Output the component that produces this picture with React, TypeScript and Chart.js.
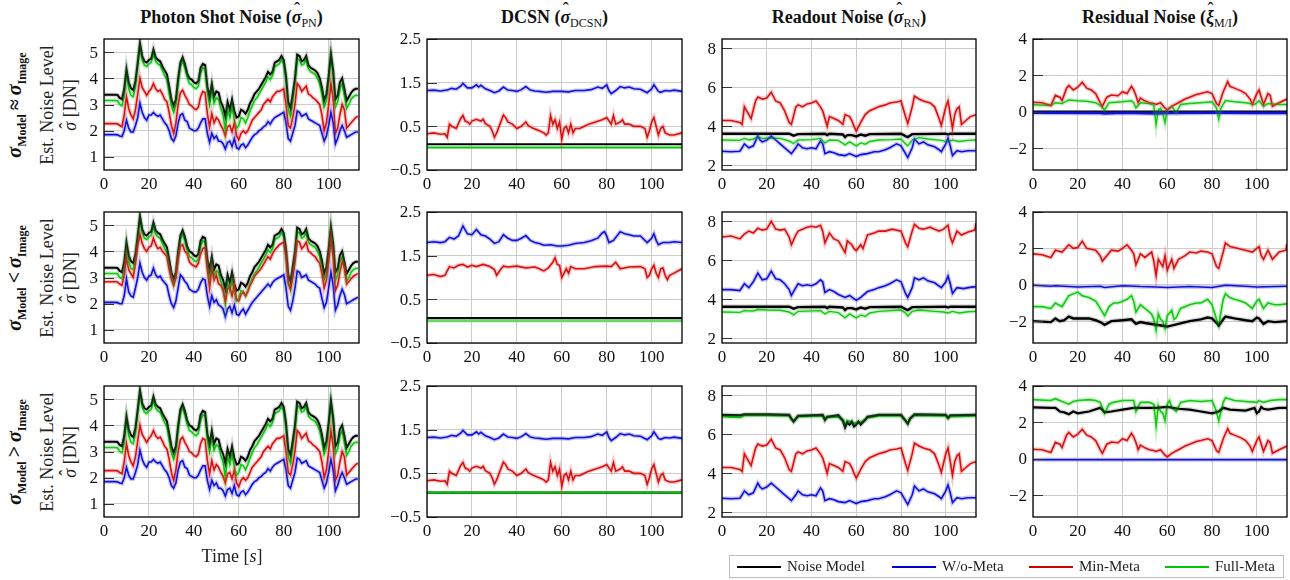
import React, { useEffect, useRef } from "react";
import { Chart, registerables } from "chart.js";
Chart.register(...registerables);

type Pt = [number, number];

// ---------- colours ----------
const BLACK = "#000000";
const BLUE = "#0000d0";
const RED = "#d00000";
const GREEN = "#00c800";
const HALO: Record<string, string> = {
  "#000000": "rgba(0,0,0,0.15)",
  "#0000d0": "rgba(60,60,230,0.28)",
  "#d00000": "rgba(230,60,60,0.28)",
  "#00c800": "rgba(60,210,60,0.28)",
};

// ---------- axes ----------
const X_TICKS = [0, 20, 40, 60, 80, 100];
const X_LABELS = ["0", "20", "40", "60", "80", "100"];
const X_MAX = 113.5;
const PN_Y_TICKS = [1, 2, 3, 4, 5];
const PN_Y_LABELS = ["1", "2", "3", "4", "5"];
const DCSN_Y_TICKS = [-0.5, 0.5, 1.5, 2.5];
const DCSN_Y_LABELS = ["\u22120.5", "0.5", "1.5", "2.5"];
const RN_Y_TICKS = [2, 4, 6, 8];
const RN_Y_LABELS = ["2", "4", "6", "8"];
const RES_Y_TICKS = [-2, 0, 2, 4];
const RES_Y_LABELS = ["\u22122", "0", "2", "4"];

const TITLES = ["Photon Shot Noise", "DCSN", "Readout Noise", "Residual Noise"];
const TITLE_SYMBOLS = ["\u03C3", "\u03C3", "\u03C3", "\u03BE"];
const TITLE_SUBS = ["PN", "DCSN", "RN", "M/I"];
const ROW_RELATIONS = ["\u2248", "<", ">"];
const LEGEND_LABELS = ["Noise Model", "W/o-Meta", "Min-Meta", "Full-Meta"];

// ---------- Photon shot noise (per second, t = 0..113) ----------
const PN_BLACK = [
  3.37, 3.37, 3.37, 3.37, 3.37, 3.37, 3.36, 3.25, 3.2, 3.6,
  4.35, 3.85, 3.62, 3.55, 3.9, 4.6, 5.35, 4.85, 4.65, 4.6,
  4.7, 4.75, 5.1, 4.8, 4.7, 4.65, 4.45, 4.3, 4.15, 3.7,
  3.2, 2.95, 3.2, 4.0, 4.6, 4.8, 4.55, 4.2, 4.0, 3.95,
  3.85, 3.8, 3.9, 4.4, 4.55, 4.5, 3.7, 3.3, 3.8, 3.3,
  3.5, 3.45, 3.1, 2.9, 2.55, 3.1, 2.8, 3.2, 2.75, 2.5,
  2.55, 2.8, 2.75, 2.65, 2.8, 3.05, 3.2, 3.4, 3.5, 3.6,
  3.75, 3.9, 4.05, 4.25, 4.15, 4.25, 4.6, 4.65, 4.7, 4.85,
  4.7, 4.1, 3.1, 2.85, 3.4, 4.0, 4.9, 4.85, 4.65, 4.7,
  4.85, 4.5, 4.4, 4.35, 4.3, 4.2, 4.0, 3.65, 3.15, 3.4,
  4.1, 4.95, 4.3, 3.2, 3.35, 3.85, 4.0, 3.6, 3.15, 3.3,
  3.45, 3.55, 3.6, 3.6,
];
const PN_GREEN = [
  3.15, 3.15, 3.15, 3.15, 3.15, 3.15, 3.14, 3.0, 2.95, 3.35,
  4.2, 3.6, 3.35, 3.3, 3.7, 4.45, 5.2, 4.7, 4.5, 4.45,
  4.55, 4.6, 4.95, 4.65, 4.55, 4.5, 4.3, 4.1, 3.95, 3.45,
  2.95, 2.7, 3.0, 3.8, 4.45, 4.65, 4.4, 4.05, 3.8, 3.75,
  3.65, 3.6, 3.7, 4.2, 4.4, 4.35, 3.45, 3.0, 3.55, 3.05,
  3.25, 3.2, 2.85, 2.6, 2.0, 2.8, 2.5, 2.9, 2.4, 2.1,
  2.2, 2.5, 2.45, 2.3, 2.5, 2.75, 2.95, 3.15, 3.25, 3.4,
  3.55, 3.7, 3.85, 4.05, 3.95, 4.1, 4.45, 4.5, 4.55, 4.7,
  4.55, 3.9, 2.8, 2.55, 3.15, 3.8, 4.75, 4.7, 4.5, 4.55,
  4.7, 4.35, 4.25, 4.2, 4.15, 4.0, 3.8, 3.4, 2.9, 3.15,
  3.9, 4.8, 4.1, 2.9, 3.1, 3.6, 3.8, 3.35, 2.85, 3.0,
  3.2, 3.3, 3.35, 3.35,
];
const PN_RED_R1 = [
  2.27, 2.27, 2.27, 2.27, 2.27, 2.27, 2.26, 2.2, 2.15, 2.6,
  3.3, 2.85, 2.6, 2.45, 2.8, 3.4, 4.0, 3.65, 3.5, 3.35,
  3.5, 3.6, 3.8, 3.6, 3.5, 3.55, 3.4, 3.2, 3.1, 2.7,
  2.2, 1.9, 2.3, 3.0, 3.45, 3.55, 3.35, 3.2, 3.0, 2.95,
  2.85, 2.8, 2.9, 3.3, 3.5, 3.45, 2.65, 2.15, 2.65, 2.3,
  2.5, 2.4, 2.2, 2.05, 1.8, 2.15, 2.2, 1.95, 2.3, 1.8,
  1.65, 1.9, 2.0, 1.9, 2.0, 2.2, 2.4, 2.5, 2.6, 2.7,
  2.8, 3.0, 3.1, 3.2, 3.1, 3.3, 3.4, 3.5, 3.5, 3.55,
  3.6, 3.0, 2.2, 2.1, 2.5, 3.0, 3.8, 3.7, 3.5, 3.6,
  3.7, 3.4, 3.35, 3.25, 3.2, 3.1, 3.0, 2.6, 2.0, 2.3,
  3.0, 3.8, 3.2, 1.9, 2.1, 2.6, 3.0, 2.8, 2.1, 2.2,
  2.3, 2.4, 2.5, 2.55,
];
const PN_BLUE_R1 = [
  1.85, 1.85, 1.85, 1.85, 1.85, 1.85, 1.84, 1.8, 1.78, 2.0,
  2.4, 2.1, 1.95, 1.95, 2.2, 2.5, 3.05, 2.7, 2.5, 2.4,
  2.6, 2.6, 2.7, 2.6, 2.55, 2.6, 2.45, 2.3, 2.2, 2.0,
  1.7, 1.6, 1.8, 2.3, 2.6, 2.65, 2.4, 2.35, 2.1, 2.05,
  2.0, 2.0, 2.1, 2.3, 2.45, 2.45, 1.9, 1.55, 1.9, 1.7,
  1.8, 1.6, 1.6, 1.5, 1.3, 1.55, 1.6, 1.4, 1.7, 1.35,
  1.3, 1.45, 1.5, 1.35, 1.45, 1.6, 1.75, 1.85, 1.9, 2.0,
  2.05, 2.15, 2.2, 2.35, 2.25, 2.4, 2.5, 2.55, 2.6, 2.65,
  2.7, 2.3, 1.7, 1.6, 1.9, 2.2, 2.75, 2.7, 2.55, 2.6,
  2.65, 2.45, 2.4, 2.35, 2.3, 2.25, 2.2, 1.9, 1.6, 1.8,
  2.2, 2.7, 2.3, 1.5, 1.7, 2.0, 2.2, 2.0, 1.75, 1.8,
  1.85, 1.9, 1.95, 1.95,
];
const PN_RED_R2 = [
  2.84, 2.84, 2.84, 2.84, 2.84, 2.84, 2.83, 2.75, 2.7, 3.1,
  3.75, 3.3, 3.15, 3.0, 3.5, 4.2, 4.65, 4.3, 4.1, 4.0,
  4.15, 4.2, 4.5, 4.25, 4.1, 4.15, 4.0, 3.9, 3.8, 3.3,
  2.95, 2.7, 3.0, 3.7, 4.2, 4.25, 4.0, 3.9, 3.6, 3.5,
  3.45, 3.4, 3.55, 3.9, 4.1, 4.15, 3.3, 2.6, 3.3, 2.9,
  3.1, 2.75, 2.7, 2.5, 2.1, 2.55, 2.65, 2.3, 2.75, 2.15,
  2.1, 2.35, 2.45, 2.3, 2.45, 2.7, 2.85, 3.05, 3.15, 3.25,
  3.35, 3.5, 3.65, 3.8, 3.7, 3.9, 4.05, 4.15, 4.25, 4.3,
  4.35, 3.8, 2.8, 2.55, 3.0, 3.6, 4.4, 4.35, 4.1, 4.2,
  4.35, 4.0, 3.95, 3.85, 3.8, 3.65, 3.55, 3.15, 2.6, 2.9,
  3.6, 4.45, 3.8, 2.5, 2.7, 3.2, 3.6, 3.4, 2.75, 2.85,
  2.95, 3.05, 3.1, 3.15,
];
const PN_BLUE_R2 = [
  2.05, 2.05, 2.05, 2.05, 2.05, 2.05, 2.04, 2.0, 2.0, 2.3,
  2.95, 2.45, 2.3, 2.25, 2.6, 3.0, 3.55, 3.2, 3.0, 2.9,
  3.05, 3.1, 3.35, 3.1, 3.0, 3.05, 2.9, 2.8, 2.7, 2.3,
  2.0, 1.85, 2.1, 2.6, 3.1, 3.0, 2.85, 2.75, 2.55, 2.5,
  2.45, 2.45, 2.55, 2.8, 2.95, 2.9, 2.3, 1.9, 2.3, 2.05,
  2.15, 1.95, 1.9, 1.8, 1.5, 1.8, 1.9, 1.65, 1.95, 1.6,
  1.55, 1.7, 1.8, 1.6, 1.75, 1.9, 2.05, 2.15, 2.25, 2.35,
  2.45, 2.55, 2.65, 2.75, 2.65, 2.8, 2.9, 2.95, 3.0, 3.05,
  3.1, 2.6, 1.9, 1.75, 2.1, 2.6, 3.25, 3.2, 3.0, 3.05,
  3.1, 2.9, 2.85, 2.8, 2.75, 2.65, 2.6, 2.2, 1.85, 2.05,
  2.6, 3.2, 2.7, 1.75, 1.95, 2.3, 2.55, 2.35, 2.0, 2.05,
  2.1, 2.15, 2.2, 2.25,
];

// ---------- DCSN ----------
const DCSN_BLACK_R1: Pt[] = [[0, 0.09], [113.5, 0.09]];
const DCSN_GREEN_R1: Pt[] = [[0, 0.015], [113.5, 0.015]];
const DCSN_BLACK_R2: Pt[] = [[0, 0.07], [113.5, 0.07]];
const DCSN_GREEN_R2: Pt[] = [[0, 0.01], [113.5, 0.01]];
const DCSN_BLACK_R3: Pt[] = [[0, 0.06], [113.5, 0.06]];
const DCSN_GREEN_R3: Pt[] = [[0, 0.06], [113.5, 0.06]];
const DCSN_BLUE_R1: Pt[] = [[0,1.32],[3,1.33],[6,1.31],[9,1.33],[11,1.37],[13,1.35],[15,1.42],[16,1.48],[18,1.38],[20,1.38],[22,1.45],[23,1.40],[24,1.44],[26,1.36],[28,1.32],[30,1.27],[32,1.31],[34,1.40],[36,1.33],[38,1.32],[40,1.30],[42,1.34],[44,1.41],[46,1.33],[48,1.31],[50,1.30],[53,1.28],[56,1.30],[60,1.30],[63,1.29],[66,1.32],[70,1.32],[73,1.34],[76,1.40],[78,1.37],[80,1.45],[81,1.32],[82,1.25],[84,1.32],[86,1.41],[88,1.38],[90,1.40],[92,1.36],[95,1.35],[98,1.27],[100,1.36],[101,1.45],[103,1.30],[104,1.28],[106,1.32],[108,1.31],[110,1.33],[113.5,1.30]];
const DCSN_RED_R1: Pt[] = [[0,0.33],[3,0.35],[6,0.32],[8,0.33],[9,0.25],[10,0.55],[11,0.5],[13,0.45],[15,0.68],[16,0.75],[17,0.62],[18,0.6],[19,0.55],[20,0.62],[22,0.66],[24,0.62],[25,0.66],[26,0.56],[28,0.5],[29,0.4],[30,0.25],[31,0.35],[33,0.62],[34,0.76],[35,0.70],[36,0.60],[38,0.55],[40,0.45],[42,0.50],[44,0.60],[45,0.52],[47,0.46],[50,0.40],[52,0.35],[53,0.30],[54,0.35],[55,0.75],[56,0.55],[57,0.65],[58,0.45],[59,0.60],[60,0.20],[61,0.45],[62,0.50],[63,0.35],[64,0.55],[65,0.35],[66,0.45],[68,0.45],[70,0.50],[72,0.55],[75,0.60],[78,0.65],[80,0.70],[82,0.55],[83,0.75],[84,0.55],[86,0.60],[87,0.65],[88,0.55],[90,0.55],[92,0.50],[95,0.50],[97,0.45],[98,0.25],[99,0.40],[100,0.60],[101,0.70],[102,0.50],[103,0.30],[104,0.45],[105,0.50],[106,0.35],[108,0.30],[110,0.30],[113.5,0.35]];
const DCSN_BLUE_R2: Pt[] = [[0,1.80],[3,1.82],[6,1.80],[8,1.82],[10,1.92],[12,1.88],[14,1.95],[16,2.18],[18,2.0],[20,1.98],[22,2.10],[24,1.98],[26,1.95],[28,1.88],[30,1.78],[32,1.82],[34,1.98],[36,1.90],[38,1.85],[40,1.85],[42,1.90],[44,1.96],[46,1.85],[48,1.80],[50,1.78],[52,1.74],[55,1.75],[58,1.72],[60,1.72],[63,1.74],[66,1.78],[70,1.80],[73,1.84],[76,1.90],[78,2.02],[79,2.05],[80,1.95],[81,1.80],[83,1.85],[86,2.05],[88,2.0],[90,1.98],[92,1.95],[95,1.95],[98,1.80],[100,1.90],[101,2.0],[102,1.85],[103,1.75],[105,1.80],[108,1.80],[110,1.82],[113.5,1.80]];
const DCSN_RED_R2: Pt[] = [[0,1.05],[3,1.07],[6,1.02],[8,1.05],[9,1.15],[10,1.25],[12,1.22],[14,1.28],[16,1.30],[18,1.24],[20,1.28],[22,1.25],[25,1.30],[28,1.25],[30,1.18],[31,1.05],[33,1.20],[34,1.26],[36,1.24],[40,1.26],[44,1.22],[48,1.24],[50,1.20],[52,1.15],[54,1.22],[56,1.35],[57,1.45],[58,1.30],[59,1.28],[60,1.0],[61,1.10],[62,1.20],[63,1.10],[64,1.25],[66,1.20],[70,1.20],[75,1.25],[80,1.26],[82,1.25],[84,1.35],[86,1.20],[90,1.24],[95,1.25],[97,1.20],[98,1.0],[99,1.05],[100,1.20],[101,1.28],[102,1.10],[103,1.0],[104,1.20],[105,1.22],[106,1.05],[107,0.95],[108,1.05],[110,1.10],[113.5,1.20]];

// ---------- Readout noise ----------
const RN_BLACK_R1: Pt[] = [[0,3.62],[30,3.62],[32,3.52],[34,3.6],[46,3.62],[47,3.55],[48,3.62],[54,3.58],[55,3.45],[56,3.55],[58,3.55],[60,3.48],[62,3.58],[64,3.52],[66,3.6],[80,3.62],[82,3.5],[83,3.45],[85,3.6],[100,3.62],[101,3.58],[102,3.62],[113.5,3.62]];
const RN_GREEN_R1: Pt[] = [[0,3.3],[8,3.28],[10,3.38],[12,3.3],[14,3.35],[16,3.45],[18,3.38],[22,3.4],[26,3.38],[30,3.25],[32,3.12],[34,3.3],[40,3.32],[44,3.38],[46,3.15],[48,3.3],[52,3.28],[55,3.05],[57,3.2],[60,3.0],[62,3.15],[64,3.08],[66,3.22],[70,3.3],[76,3.32],[80,3.35],[82,3.1],[83,3.0],[85,3.3],[88,3.42],[92,3.35],[98,3.28],[101,3.2],[103,3.3],[106,3.22],[110,3.28],[113.5,3.3]];
const RN_BLUE_R1: Pt[] = [[0,2.72],[4,2.7],[8,2.72],[9,2.9],[10,3.1],[12,2.9],[14,3.0],[16,3.5],[17,3.3],[18,3.2],[20,3.3],[22,3.5],[24,3.3],[26,3.1],[28,2.9],[30,2.7],[31,2.6],[33,2.9],[34,3.1],[36,2.9],[38,2.85],[40,2.9],[42,2.85],[44,3.25],[45,3.1],[46,2.6],[48,2.7],[50,2.65],[52,2.55],[55,2.5],[57,2.6],[60,2.45],[62,2.55],[65,2.6],[68,2.7],[70,2.7],[73,2.8],[75,2.9],[78,3.1],[80,3.0],[82,2.6],[83,2.4],[85,2.9],[86,3.35],[88,3.1],[90,3.2],[92,3.05],[95,2.95],[97,2.8],[98,2.7],[100,3.1],[101,3.4],[102,3.0],[103,2.5],[105,2.75],[107,2.7],[110,2.75],[113.5,2.75]];
const RN_RED_R1: Pt[] = [[0,4.3],[4,4.3],[8,4.2],[9,4.1],[10,5.0],[12,4.6],[13,4.4],[15,5.3],[16,5.5],[18,5.4],[20,5.45],[22,5.75],[24,5.3],[26,5.2],[28,4.8],[30,4.2],[31,4.1],[33,5.0],[34,5.1],[36,5.0],[38,5.15],[40,5.2],[42,5.3],[44,5.0],[45,4.8],[46,4.4],[47,4.0],[48,4.5],[50,4.4],[52,4.3],[54,4.1],[55,4.6],[57,4.5],[58,4.3],[59,4.0],[60,3.75],[62,4.2],[64,4.6],[66,4.8],[68,4.9],[70,5.0],[73,5.1],[75,5.2],[78,5.25],[80,5.3],[82,4.5],[83,4.15],[85,5.0],[86,5.55],[88,5.4],[90,5.3],[93,5.2],[95,5.0],[97,4.4],[98,4.05],[100,5.0],[101,5.3],[102,4.6],[103,3.9],[104,4.6],[105,4.9],[106,5.0],[107,4.1],[109,4.3],[111,4.5],[113.5,4.6]];
const RN_GREEN_R2: Pt[] = [[0,3.35],[8,3.33],[10,3.42],[14,3.4],[16,3.48],[20,3.45],[26,3.44],[30,3.35],[32,3.2],[34,3.38],[44,3.42],[46,3.25],[48,3.38],[52,3.32],[55,3.05],[57,3.25],[60,3.05],[62,3.2],[64,3.12],[66,3.3],[70,3.38],[80,3.45],[82,3.3],[83,3.15],[85,3.38],[88,3.45],[95,3.38],[99,3.35],[101,3.3],[103,3.38],[106,3.3],[110,3.36],[113.5,3.38]];
const RN_RED_R2: Pt[] = [[0,7.2],[4,7.25],[8,7.1],[10,7.35],[12,7.5],[14,7.4],[16,7.65],[18,7.55],[20,7.6],[22,8.0],[24,7.6],[26,7.55],[28,7.6],[30,7.2],[31,6.8],[33,7.3],[34,7.5],[36,7.6],[38,7.7],[40,7.75],[42,7.7],[44,7.8],[45,7.5],[46,6.9],[48,7.4],[50,7.1],[52,7.0],[54,6.6],[55,6.4],[56,7.0],[58,6.8],[59,6.6],[60,6.5],[62,6.8],[63,6.6],[65,7.3],[68,7.4],[70,7.5],[73,7.5],[76,7.6],[80,7.5],[82,6.9],[83,6.7],[85,7.5],[86,7.85],[88,7.65],[90,7.6],[93,7.7],[95,7.6],[97,7.5],[99,7.6],[101,7.8],[102,7.2],[103,6.9],[105,7.5],[107,7.3],[110,7.45],[113,7.55],[113.5,7.9]];
const RN_BLUE_R2: Pt[] = [[0,4.5],[4,4.5],[8,4.45],[10,4.8],[12,4.6],[14,4.9],[16,5.35],[18,5.0],[20,5.05],[22,5.45],[24,5.05],[26,5.0],[28,4.8],[30,4.5],[31,4.2],[33,4.6],[34,4.8],[36,4.7],[38,4.75],[40,4.7],[42,4.8],[44,5.0],[45,4.9],[46,4.35],[48,4.5],[50,4.4],[52,4.25],[55,4.1],[57,4.2],[60,3.95],[62,4.1],[65,4.4],[68,4.5],[70,4.6],[73,4.7],[75,4.8],[78,5.0],[80,4.9],[82,4.3],[83,4.1],[85,4.6],[86,5.1],[88,5.0],[90,5.1],[92,4.95],[95,4.85],[98,4.6],[100,4.9],[101,5.2],[102,4.8],[103,4.3],[105,4.6],[108,4.55],[110,4.6],[113.5,4.65]];
const RN_BLACK_R3: Pt[] = [[0,7.0],[8,6.98],[10,7.02],[20,7.02],[30,7.0],[31,6.8],[32,6.65],[34,6.95],[45,7.0],[46,6.75],[47,6.9],[52,6.98],[54,6.7],[55,6.35],[56,6.6],[57,6.5],[58,6.65],[59,6.4],[60,6.5],[61,6.65],[62,6.5],[64,6.75],[65,6.9],[70,7.0],[80,7.0],[82,6.7],[83,6.55],[84,6.8],[86,7.02],[100,7.0],[101,6.85],[102,6.98],[113.5,7.0]];
const RN_GREEN_R3: Pt[] = [[0,6.92],[8,6.88],[10,6.98],[20,6.98],[30,6.95],[31,6.8],[32,6.68],[34,6.92],[45,6.95],[46,6.72],[47,6.88],[52,6.9],[54,6.75],[55,6.5],[56,6.7],[58,6.62],[59,6.55],[60,6.6],[62,6.62],[64,6.75],[65,6.85],[70,6.95],[80,6.95],[82,6.7],[83,6.55],[84,6.8],[86,6.98],[100,6.95],[101,6.82],[102,6.92],[113.5,6.95]];

// ---------- Residual noise ----------
const RES_BLACK_R1: Pt[] = [[0, 0], [113.5, 0]];
const RES_BLUE_R1: Pt[] = [[0,-0.06],[30,-0.07],[32,-0.1],[40,-0.06],[55,-0.1],[60,-0.08],[80,-0.06],[100,-0.07],[113.5,-0.07]];
const RES_RED_R1: Pt[] = [[0,0.52],[4,0.5],[8,0.35],[10,0.9],[12,0.8],[13,0.62],[15,1.3],[16,1.45],[18,1.2],[20,1.35],[22,1.62],[24,1.3],[26,1.2],[28,1.0],[30,0.5],[31,0.3],[33,0.8],[35,0.92],[38,0.88],[40,1.1],[42,1.0],[44,1.4],[45,1.2],[46,0.9],[47,0.5],[48,0.75],[50,0.6],[52,0.5],[54,0.45],[55,0.4],[57,0.5],[59,0.2],[60,0.1],[62,0.3],[65,0.5],[68,0.7],[70,0.8],[73,0.95],[75,1.0],[78,1.1],[80,1.0],[82,0.45],[83,0.35],[85,1.1],[87,1.65],[88,1.4],[90,1.3],[93,1.15],[95,1.0],[97,0.7],[98,0.4],[100,1.0],[101,1.2],[102,0.8],[103,0.4],[105,1.0],[106,0.9],[107,0.3],[110,0.5],[113.5,0.7]];
const RES_GREEN_R1: Pt[] = [[0,0.38],[8,0.35],[10,0.5],[13,0.45],[16,0.65],[20,0.6],[24,0.58],[28,0.5],[30,0.35],[32,0.1],[34,0.5],[40,0.55],[44,0.6],[45,0.5],[46,0.22],[48,0.5],[52,0.45],[54,0.35],[55,-0.7],[56,0.1],[57,0.2],[58,-0.1],[59,-0.6],[60,0.1],[62,0.3],[64,-0.05],[66,0.4],[70,0.45],[75,0.5],[80,0.55],[82,0.2],[83,-0.4],[84,0.2],[86,0.62],[90,0.55],[95,0.5],[99,0.4],[101,0.6],[103,0.3],[105,0.45],[110,0.4],[113.5,0.4]];
const RES_BLUE_R2: Pt[] = [[0,-0.02],[8,-0.08],[10,-0.05],[20,-0.12],[30,-0.08],[32,-0.15],[40,-0.05],[48,-0.1],[55,-0.12],[60,-0.15],[70,-0.1],[80,-0.15],[86,-0.02],[95,-0.08],[100,-0.12],[113.5,-0.08]];
const RES_RED_R2: Pt[] = [[0,1.7],[4,1.65],[8,1.5],[10,1.9],[13,1.8],[16,2.2],[18,2.0],[20,2.05],[22,2.4],[24,2.0],[26,1.95],[28,1.9],[30,1.6],[31,1.3],[33,1.6],[35,1.9],[38,1.85],[40,2.0],[42,2.2],[44,1.9],[45,1.7],[46,1.1],[48,1.7],[50,1.5],[53,1.8],[54,1.3],[55,0.5],[56,1.4],[57,1.2],[58,1.0],[59,1.6],[60,0.8],[62,1.4],[63,0.9],[65,1.4],[68,1.6],[70,1.8],[73,1.75],[75,1.85],[78,1.8],[80,1.7],[82,1.0],[83,0.9],[85,1.8],[86,2.3],[88,2.1],[90,2.05],[93,1.95],[95,1.9],[98,1.8],[100,2.0],[101,2.1],[102,1.6],[103,1.4],[105,1.9],[107,1.4],[110,1.8],[113,1.9],[113.5,2.25]];
const RES_GREEN_R2: Pt[] = [[0,-1.2],[4,-1.2],[8,-1.3],[10,-1.0],[13,-1.2],[16,-0.6],[18,-0.5],[20,-0.4],[22,-0.6],[25,-0.7],[28,-0.9],[30,-1.3],[32,-1.7],[34,-1.2],[36,-1.0],[38,-1.0],[40,-0.9],[42,-0.8],[44,-0.6],[45,-0.9],[46,-1.5],[48,-1.1],[50,-1.3],[53,-1.6],[54,-1.9],[55,-2.5],[56,-1.6],[57,-1.9],[58,-2.0],[59,-2.4],[60,-1.7],[62,-1.4],[63,-1.9],[64,-1.8],[66,-1.3],[70,-1.1],[73,-1.0],[75,-1.0],[78,-0.8],[80,-1.1],[82,-1.9],[83,-2.2],[85,-0.8],[86,-0.5],[88,-0.7],[90,-0.8],[93,-0.9],[95,-1.0],[98,-1.3],[100,-0.9],[101,-0.8],[103,-1.3],[105,-1.0],[108,-1.1],[110,-1.1],[113.5,-1.05]];
const RES_BLACK_R2: Pt[] = [[0,-2.0],[8,-2.05],[10,-1.85],[12,-2.0],[14,-1.95],[16,-1.75],[18,-1.85],[20,-1.85],[25,-1.85],[28,-1.95],[30,-2.05],[32,-2.2],[35,-2.0],[40,-1.95],[44,-1.9],[46,-2.15],[48,-2.05],[50,-2.1],[55,-2.2],[58,-2.25],[60,-2.3],[65,-2.15],[70,-2.0],[75,-1.9],[78,-1.8],[80,-1.85],[82,-2.1],[83,-2.25],[85,-1.9],[86,-1.75],[90,-1.85],[95,-1.95],[98,-2.0],[100,-1.8],[101,-1.85],[102,-2.0],[103,-2.15],[105,-2.0],[108,-2.05],[113.5,-2.0]];
const RES_BLUE_R3: Pt[] = [[0,-0.05],[40,-0.06],[80,-0.05],[113.5,-0.06]];
const RES_GREEN_R3: Pt[] = [[0,3.25],[8,3.2],[10,3.3],[13,3.15],[16,3.0],[18,3.15],[20,3.2],[25,3.25],[28,3.2],[30,3.1],[32,2.5],[34,3.0],[36,3.1],[40,3.2],[45,3.2],[46,2.6],[48,3.1],[52,3.1],[54,3.0],[55,1.8],[56,2.9],[57,2.6],[58,2.5],[59,2.1],[60,3.0],[61,3.2],[62,2.8],[64,2.6],[66,3.1],[70,3.2],[75,3.15],[80,3.2],[82,2.6],[83,2.1],[85,3.1],[86,3.35],[90,3.2],[95,3.15],[100,3.1],[101,3.2],[103,3.1],[106,3.2],[110,3.25],[113.5,3.25]];
const RES_BLACK_R3: Pt[] = [[0,2.82],[8,2.8],[10,2.8],[12,2.6],[14,2.55],[16,2.45],[18,2.6],[20,2.5],[25,2.6],[30,2.8],[32,2.55],[35,2.6],[40,2.7],[45,2.8],[50,2.8],[55,2.8],[60,2.85],[65,2.75],[70,2.7],[75,2.6],[80,2.5],[83,2.6],[85,2.8],[88,2.7],[95,2.65],[99,2.8],[100,2.5],[101,2.6],[102,2.85],[103,2.75],[105,2.7],[110,2.8],[113.5,2.8]];

// ---------- helpers ----------
type XY = { x: number; y: number };
const fromVals = (v: number[]): XY[] => v.map((y, i) => ({ x: i, y }));
const fromPairs = (p: Pt[]): XY[] => p.map(([x, y]) => ({ x, y }));

type Series = { data: XY[]; color: string; width: number; halo: boolean };
const S = (data: XY[], color: string, width = 1.6, halo = true): Series => ({ data, color, width, halo });

const COL_LEFT = [104, 427, 722, 1033];
const COL_W = [255, 255, 254, 254];
const ROW_TOP = [39, 212, 386];
const PLOT_H = 131;
const YW = 50;
const PT = 12;
const PR = 6;
const XH = 30;

type YAxis = { min: number; max: number; ticks: number[]; labels: string[] };
const Y_AXES: YAxis[] = [
  { min: 0.5, max: 5.5, ticks: PN_Y_TICKS, labels: PN_Y_LABELS },
  { min: -0.5, max: 2.5, ticks: DCSN_Y_TICKS, labels: DCSN_Y_LABELS },
  { min: 1.76, max: 8.48, ticks: RN_Y_TICKS, labels: RN_Y_LABELS },
  { min: -3.2, max: 4.0, ticks: RES_Y_TICKS, labels: RES_Y_LABELS },
];

const PANELS: Series[][][] = [
  [
    [S(fromVals(PN_BLUE_R1), BLUE), S(fromVals(PN_RED_R1), RED), S(fromVals(PN_BLACK), BLACK, 2), S(fromVals(PN_GREEN), GREEN)],
    [S(fromPairs(DCSN_GREEN_R1), GREEN, 1.8, false), S(fromPairs(DCSN_BLACK_R1), BLACK, 2.2, false), S(fromPairs(DCSN_BLUE_R1), BLUE), S(fromPairs(DCSN_RED_R1), RED)],
    [S(fromPairs(RN_BLUE_R1), BLUE), S(fromPairs(RN_RED_R1), RED), S(fromPairs(RN_BLACK_R1), BLACK, 2.4), S(fromPairs(RN_GREEN_R1), GREEN, 1.4)],
    [S(fromPairs(RES_BLUE_R1), BLUE, 2.2), S(fromPairs(RES_BLACK_R1), BLACK, 2.4, false), S(fromPairs(RES_RED_R1), RED), S(fromPairs(RES_GREEN_R1), GREEN, 1.5)],
  ],
  [
    [S(fromVals(PN_BLUE_R2), BLUE), S(fromVals(PN_RED_R2), RED), S(fromVals(PN_BLACK), BLACK, 2), S(fromVals(PN_GREEN), GREEN)],
    [S(fromPairs(DCSN_GREEN_R2), "#6ad66a", 3, false), S(fromPairs(DCSN_BLACK_R2), BLACK, 2.2, false), S(fromPairs(DCSN_BLUE_R2), BLUE), S(fromPairs(DCSN_RED_R2), RED)],
    [S(fromPairs(RN_BLUE_R2), BLUE), S(fromPairs(RN_RED_R2), RED), S(fromPairs(RN_BLACK_R1), BLACK, 2.4), S(fromPairs(RN_GREEN_R2), GREEN, 1.4)],
    [S(fromPairs(RES_BLUE_R2), BLUE, 1.5), S(fromPairs(RES_BLACK_R2), BLACK, 2.4), S(fromPairs(RES_RED_R2), RED), S(fromPairs(RES_GREEN_R2), GREEN)],
  ],
  [
    [S(fromVals(PN_BLUE_R1), BLUE), S(fromVals(PN_RED_R1), RED), S(fromVals(PN_BLACK), BLACK, 2), S(fromVals(PN_GREEN), GREEN)],
    [S(fromPairs(DCSN_GREEN_R3), GREEN, 2, false), S(fromPairs(DCSN_BLACK_R3), BLACK, 2.2, false), S(fromPairs(DCSN_BLUE_R1), BLUE), S(fromPairs(DCSN_RED_R1), RED)],
    [S(fromPairs(RN_BLUE_R1), BLUE), S(fromPairs(RN_RED_R1), RED), S(fromPairs(RN_BLACK_R3), BLACK, 2.2), S(fromPairs(RN_GREEN_R3), GREEN, 2)],
    [S(fromPairs(RES_BLUE_R3), BLUE, 1.5), S(fromPairs(RES_RED_R1), RED), S(fromPairs(RES_BLACK_R3), BLACK, 2.2), S(fromPairs(RES_GREEN_R3), GREEN)],
  ],
];

const FONT = '"Liberation Serif", "Times New Roman", serif';
const CANVAS_FONT = '17px "Liberation Serif", "Times New Roman", serif';

// Frame, inner ticks and tick labels (labels drawn from the named label arrays at scale positions)
const framePlugin = {
  id: "frame",
  afterDraw(chart: any, _args: any, opts: any) {
    const { ctx, chartArea: a, scales } = chart;
    const yLabels: string[] = opts.yLabels;
    const yTicks: number[] = opts.yTicks;
    ctx.save();
    ctx.strokeStyle = "#333";
    ctx.lineWidth = 1;
    for (const v of yTicks) {
      const y = Math.round(scales.y.getPixelForValue(v)) + 0.5;
      ctx.beginPath();
      ctx.moveTo(a.left, y);
      ctx.lineTo(a.left + 10, y);
      ctx.stroke();
    }
    ctx.strokeStyle = "#000";
    ctx.lineWidth = 1.3;
    ctx.strokeRect(a.left, a.top, a.right - a.left, a.bottom - a.top);
    ctx.fillStyle = "#111";
    ctx.font = CANVAS_FONT;
    ctx.textAlign = "right";
    ctx.textBaseline = "middle";
    yTicks.forEach((v, i) => {
      ctx.fillText(yLabels[i], a.left - 6, scales.y.getPixelForValue(v) + 1);
    });
    ctx.textAlign = "center";
    ctx.textBaseline = "middle";
    X_TICKS.forEach((v, i) => {
      ctx.fillText(X_LABELS[i], scales.x.getPixelForValue(v), a.bottom + 15);
    });
    ctx.restore();
  },
};

function buildDatasets(series: Series[]) {
  const halos = series
    .filter((s) => s.halo)
    .map((s) => ({
      data: s.data,
      borderColor: HALO[s.color] || "rgba(0,0,0,0.15)",
      borderWidth: s.width + 2.6,
      pointRadius: 0,
      fill: false,
      tension: 0,
    }));
  const lines = series.map((s) => ({
    data: s.data,
    borderColor: s.color,
    borderWidth: s.width,
    pointRadius: 0,
    fill: false,
    tension: 0,
  }));
  return [...halos, ...lines];
}

function Panel({ row, col }: { row: number; col: number }) {
  const ref = useRef<HTMLCanvasElement>(null);
  const w = YW + COL_W[col] + PR;
  const h = PT + PLOT_H + XH;
  useEffect(() => {
    const ya = Y_AXES[col];
    let chart: Chart | null = null;
    let cancelled = false;
    const make = () => {
      if (cancelled || !ref.current) return;
      chart = new Chart(ref.current, {
        type: "line",
        data: { datasets: buildDatasets(PANELS[row][col]) },
        options: {
          animation: false,
          responsive: false,
          maintainAspectRatio: false,
          events: [],
          layout: { padding: { top: PT, right: PR, left: 0, bottom: 0 } },
          plugins: {
            legend: { display: false },
            tooltip: { enabled: false },
            frame: { yTicks: ya.ticks, yLabels: ya.labels },
          },
          scales: {
            x: {
              type: "linear",
              min: 0,
              max: X_MAX,
              afterBuildTicks: (s: any) => {
                s.ticks = X_TICKS.map((v) => ({ value: v }));
              },
              afterFit: (s: any) => {
                s.height = XH;
              },
              ticks: { display: false },
              grid: { color: "#cccccc", lineWidth: 1, drawTicks: false },
              border: { display: false },
            },
            y: {
              type: "linear",
              min: ya.min,
              max: ya.max,
              afterBuildTicks: (s: any) => {
                s.ticks = ya.ticks.map((v) => ({ value: v }));
              },
              afterFit: (s: any) => {
                s.width = YW;
              },
              ticks: { display: false },
              grid: { color: "#cccccc", lineWidth: 1, drawTicks: false },
              border: { display: false },
            },
          },
        } as any,
        plugins: [framePlugin],
      });
    };
    const fonts: any = (document as any).fonts;
    if (fonts && fonts.load) {
      fonts.load('17px "Liberation Serif"').then(make, make);
    } else {
      make();
    }
    return () => {
      cancelled = true;
      if (chart) chart.destroy();
    };
  }, [row, col]);
  return (
    <canvas
      ref={ref}
      width={w}
      height={h}
      style={{ position: "absolute", left: COL_LEFT[col] - YW, top: ROW_TOP[row] - PT, width: w, height: h }}
    />
  );
}

function Hat({ ch, top = "-0.42em" }: { ch: string; top?: string }) {
  return (
    <span style={{ position: "relative", display: "inline-block" }}>
      <i>{ch}</i>
      <span
        style={{
          position: "absolute",
          left: "55%",
          top,
          transform: "translateX(-50%)",
          fontStyle: "normal",
          fontWeight: "normal",
        }}
      >
        {"\u02C6"}
      </span>
    </span>
  );
}

function Rotated({ cx, cy, children, style }: { cx: number; cy: number; children: any; style?: any }) {
  return (
    <div
      style={{
        position: "absolute",
        left: cx,
        top: cy,
        transform: "translate(-50%, -50%) rotate(-90deg)",
        whiteSpace: "nowrap",
        fontFamily: FONT,
        lineHeight: 1,
        ...style,
      }}
    >
      {children}
    </div>
  );
}

export default function App() {
  const rows = [0, 1, 2];
  const cols = [0, 1, 2, 3];
  const legendColors = [BLACK, BLUE, RED, GREEN];
  const legendLineX = [7, 162, 299, 435];
  return (
    <div style={{ position: "absolute", left: 0, top: 0, width: 1290, height: 580, background: "#fff", overflow: "hidden" }}>
      {cols.map((c) => (
        <div
          key={"t" + c}
          style={{
            position: "absolute",
            left: COL_LEFT[c] + COL_W[c] / 2,
            top: 19,
            transform: "translate(-50%, -50%)",
            whiteSpace: "nowrap",
            fontFamily: FONT,
            fontSize: 18,
            fontWeight: "bold",
            color: "#111",
          }}
        >
          {TITLES[c]} (<Hat ch={TITLE_SYMBOLS[c]} />
          <sub style={{ fontSize: 12, fontWeight: "normal" }}>{TITLE_SUBS[c]}</sub>)
        </div>
      ))}
      {rows.map((r) => {
        const cy = ROW_TOP[r] + PLOT_H / 2;
        return (
          <React.Fragment key={"r" + r}>
            <Rotated cx={16} cy={cy} style={{ fontSize: 20, fontWeight: "bold", color: "#111" }}>
              <i>σ</i>
              <sub style={{ fontSize: 12 }}>Model</sub>
              {"\u2009"}
              {ROW_RELATIONS[r]}
              {"\u2009"}
              <i>σ</i>
              <sub style={{ fontSize: 12 }}>Image</sub>
            </Rotated>
            <Rotated cx={47} cy={cy} style={{ fontSize: 18, color: "#222" }}>
              Est. Noise Level
            </Rotated>
            <Rotated cx={70} cy={cy} style={{ fontSize: 18, color: "#222" }}>
              <Hat ch={"\u03C3"} top="-0.22em" /> [DN]
            </Rotated>
          </React.Fragment>
        );
      })}
      {rows.map((r) => cols.map((c) => <Panel key={r + "-" + c} row={r} col={c} />))}
      <div
        style={{
          position: "absolute",
          left: 232,
          top: 556,
          transform: "translate(-50%, -50%)",
          fontFamily: FONT,
          fontSize: 18,
          color: "#222",
          whiteSpace: "nowrap",
        }}
      >
        Time [<i>s</i>]
      </div>
      <div
        style={{
          position: "absolute",
          left: 729,
          top: 555,
          width: 555,
          height: 23,
          border: "1px solid #bdbdbd",
          boxSizing: "border-box",
          fontFamily: FONT,
          fontSize: 15,
          color: "#222",
        }}
      >
        {LEGEND_LABELS.map((l, i) => (
          <React.Fragment key={l}>
            <div
              style={{
                position: "absolute",
                left: legendLineX[i],
                top: 10,
                width: 44,
                height: 2,
                background: legendColors[i],
              }}
            />
            <div style={{ position: "absolute", left: legendLineX[i] + 50, top: 2, whiteSpace: "nowrap", lineHeight: "17px" }}>
              {l}
            </div>
          </React.Fragment>
        ))}
      </div>
    </div>
  );
}
